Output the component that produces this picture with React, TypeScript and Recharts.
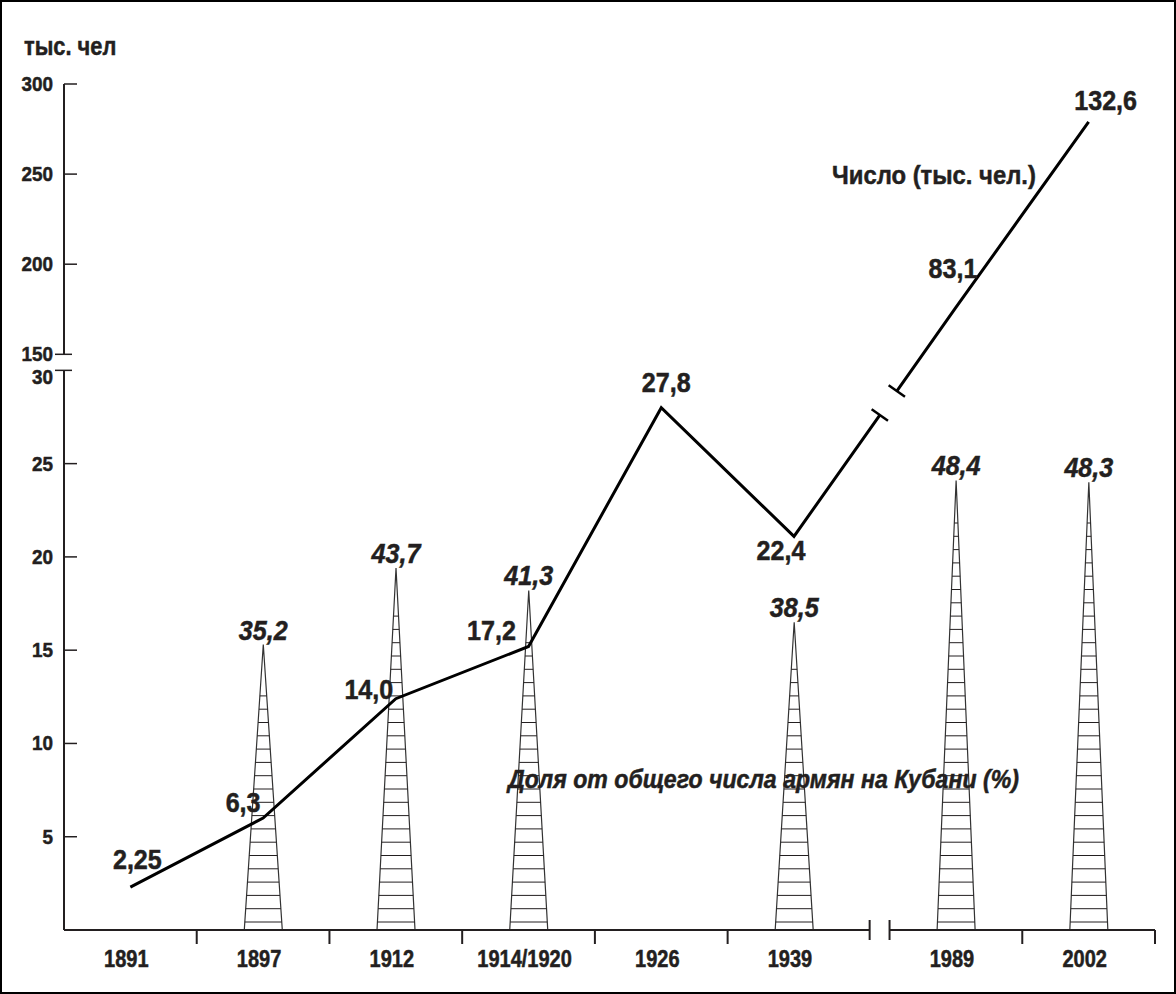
import React from "react";
import { ComposedChart, Line, Bar, XAxis, YAxis, ReferenceLine } from "recharts";

const years = ["1891", "1897", "1912", "1914/1920", "1926", "1939", "1989", "2002"];
const countLabels = ["2,25", "6,3", "14,0", "17,2", "27,8", "22,4", "83,1", "132,6"];
// count line as drawn: lower scale for 1891–1939, upper (broken) scale for 1989–2002
const countDrawn = [2.3, 6.0, 12.4, 15.2, 28.0, 21.1, 176, 279];
const shareLabels = [null, "35,2", "43,7", "41,3", null, "38,5", "48,4", "48,3"];
// spike heights as drawn, on the lower scale
const shareDrawn = [null, 15.3, 19.4, 18.2, null, 16.5, 24.1, 24.0];
const yTicksLow = [5, 10, 15, 20, 25, 30];
const yTicksHigh = [150, 200, 250, 300];

const W = 1176;
const H = 994;
const FONT = '"Liberation Sans", Arial, sans-serif';
const INK = "#231f20";

// broken y axis
const LOW_TOP = 30;
const HIGH_BOTTOM = 150;
const Y_GAP = 0.86;
const HIGH_K = 0.0966;
const yPlot = (v: number) => (v <= LOW_TOP ? v : LOW_TOP + Y_GAP + (v - HIGH_BOTTOM) * HIGH_K);
const Y_MAX = yPlot(300);

// broken x axis (gap between 1939 and 1989)
const LOW_CATS = 6;
const X_GAP = 0.22;
const xPlot = (i: number) => i + 0.5 + (i >= LOW_CATS ? X_GAP : 0);
const X_MAX = years.length + X_GAP;
const X_BREAK = [LOW_CATS + 0.07, LOW_CATS + X_GAP];
const LINE_BREAK_T = [0.53, 0.635];

const countLabelOffset: [number, number][] = [
  [7, -18], [-20, -6], [-27, 0], [-37, -6], [5, -16], [-13, 24], [-3, -29], [17, -12],
];

type Row = {
  x: number;
  low?: number;
  high?: number;
  share?: number;
  idx?: number;
  brk?: boolean;
};

const rows: Row[] = [];
years.forEach((_, i) => {
  const c = yPlot(countDrawn[i]);
  const row: Row = { x: xPlot(i), idx: i };
  if (i < LOW_CATS) row.low = c;
  else row.high = c;
  const s = shareDrawn[i];
  if (s != null) row.share = s;
  rows.push(row);
  if (i === LOW_CATS - 1) {
    const a = xPlot(i);
    const b = xPlot(i + 1);
    const cb = yPlot(countDrawn[i + 1]);
    rows.push({ x: a + (b - a) * LINE_BREAK_T[0], low: c + (cb - c) * LINE_BREAK_T[0], brk: true });
    rows.push({ x: a + (b - a) * LINE_BREAK_T[1], high: c + (cb - c) * LINE_BREAK_T[1], brk: true });
  }
});

const yTickVals = [...yTicksLow, ...yTicksHigh];
const xTicks = [
  ...years.map((_, i) => xPlot(i)),
  1, 2, 3, 4, 5,
  ...X_BREAK,
  LOW_CATS + 1 + X_GAP,
  LOW_CATS + 2 + X_GAP,
].sort((a, b) => a - b);

const near = (a: number, b: number) => Math.abs(a - b) < 1e-6;

// bold text squeezed horizontally, the original uses a narrow face
const CText = ({ x, y, size, sx = 1, anchor = "start", italic = false, children }: any) => (
  <text
    transform={`translate(${x} ${y}) scale(${sx} 1)`}
    textAnchor={anchor}
    fontFamily={FONT}
    fontWeight="bold"
    fontStyle={italic ? "italic" : "normal"}
    fontSize={size}
    fill={INK}
    stroke={INK}
    strokeWidth={0.5}
  >
    {children}
  </text>
);

const YTick = (p: any) => {
  const { x, y, payload } = p;
  const t = yTickVals.find((v) => near(yPlot(v), payload.value));
  if (t == null) return <g />;
  const isBreak = t === LOW_TOP || t === HIGH_BOTTOM;
  return (
    <g>
      <line
        x1={isBreak ? x - 9 : x}
        x2={isBreak ? x + 8 : x + 13}
        y1={y}
        y2={y}
        stroke={INK}
        strokeWidth={1.5}
      />
      <CText x={x - 11} y={y + 7 + (t === LOW_TOP ? 7 : 0)} size={21} sx={0.9} anchor="end">
        {t}
      </CText>
    </g>
  );
};

const XTick = (p: any) => {
  const { x, y, payload } = p;
  const v = payload.value;
  const ci = years.findIndex((_, i) => near(xPlot(i), v));
  if (ci >= 0) {
    return (
      <CText x={x - 4} y={y + 37} size={23} sx={0.87} anchor="middle">
        {years[ci]}
      </CText>
    );
  }
  if (X_BREAK.some((b) => near(b, v))) {
    return <line x1={x} x2={x} y1={y - 10} y2={y + 10} stroke={INK} strokeWidth={2} />;
  }
  return <line x1={x} x2={x} y1={y} y2={y + 14} stroke={INK} strokeWidth={2} />;
};

const CountDot = (p: any) => {
  const { cx, cy, payload, points, index, dataKey } = p;
  const key = `${dataKey}-${index}`;
  if (cx == null || cy == null || Number.isNaN(cy)) return <g key={key} />;
  if (payload.brk) {
    let ux = 0.58;
    let uy = -0.81;
    const nb = dataKey === "low" ? points?.[index - 1] : points?.[index + 1];
    if (nb && nb.y != null) {
      const dx = dataKey === "low" ? cx - nb.x : nb.x - cx;
      const dy = dataKey === "low" ? cy - nb.y : nb.y - cy;
      const len = Math.hypot(dx, dy) || 1;
      ux = dx / len;
      uy = dy / len;
    }
    const px = -uy;
    const py = ux;
    return (
      <line
        key={key}
        x1={cx - 10 * px}
        y1={cy - 10 * py}
        x2={cx + 10 * px}
        y2={cy + 10 * py}
        stroke="#000"
        strokeWidth={2.5}
      />
    );
  }
  const i = payload.idx;
  if (i == null) return <g key={key} />;
  const [dx, dy] = countLabelOffset[i];
  return (
    <g key={key}>
      <CText x={cx + dx} y={cy + dy} size={27} sx={0.93} anchor="middle">
        {countLabels[i]}
      </CText>
    </g>
  );
};

const Spike = (p: any) => {
  const { x, y, width, height, payload } = p;
  if (payload.share == null || !height) return <g />;
  const cx = x + width / 2;
  const apex = y;
  const base = y + height;
  const half = 19;
  const hatch = [];
  for (let ly = base - 8; ly > apex + 40; ly -= 13.3) {
    const w = (half * (ly - apex)) / (base - apex);
    hatch.push(
      <line key={ly} x1={cx - w} x2={cx + w} y1={ly} y2={ly} stroke={INK} strokeWidth={1} />
    );
  }
  return (
    <g>
      <polygon
        points={`${cx},${apex} ${cx - half},${base} ${cx + half},${base}`}
        fill="#fff"
        stroke="#333"
        strokeWidth={1.2}
      />
      {hatch}
      <CText x={cx} y={apex - 5} size={27} sx={0.93} anchor="middle" italic>
        {shareLabels[payload.idx]}
      </CText>
    </g>
  );
};

export default function App() {
  return (
    <div style={{ position: "absolute", left: 0, top: 0, width: W, height: H, background: "#fff" }}>
      <ComposedChart
        width={W}
        height={H}
        data={rows}
        margin={{ top: 84, right: 21, bottom: 0, left: 0 }}
      >
        <XAxis
          dataKey="x"
          type="number"
          domain={[0, X_MAX]}
          ticks={xTicks}
          interval={0}
          tick={XTick}
          tickLine={false}
          axisLine={false}
          tickSize={0}
          tickMargin={0}
          height={64}
        />
        <YAxis
          type="number"
          domain={[0, Y_MAX]}
          ticks={yTickVals.map(yPlot)}
          interval={0}
          tick={YTick}
          tickLine={false}
          axisLine={false}
          tickSize={0}
          tickMargin={0}
          width={64}
        />
        <Bar dataKey="share" shape={Spike} isAnimationActive={false} />
        <ReferenceLine segment={[{ x: 0, y: 0 }, { x: X_BREAK[0], y: 0 }]} stroke={INK} strokeWidth={2} ifOverflow="visible" />
        <ReferenceLine segment={[{ x: X_BREAK[1], y: 0 }, { x: X_MAX, y: 0 }]} stroke={INK} strokeWidth={2} ifOverflow="visible" />
        <ReferenceLine segment={[{ x: 0, y: 0 }, { x: 0, y: yPlot(LOW_TOP) }]} stroke={INK} strokeWidth={2} ifOverflow="visible" />
        <ReferenceLine segment={[{ x: 0, y: yPlot(HIGH_BOTTOM) }, { x: 0, y: Y_MAX }]} stroke={INK} strokeWidth={2} ifOverflow="visible" />
        <Line
          dataKey="low"
          type="linear"
          stroke="#000"
          strokeWidth={3}
          dot={CountDot}
          activeDot={false}
          isAnimationActive={false}
        />
        <Line
          dataKey="high"
          type="linear"
          stroke="#000"
          strokeWidth={3}
          dot={CountDot}
          activeDot={false}
          isAnimationActive={false}
        />
      </ComposedChart>
      <svg
        width={W}
        height={H}
        style={{ position: "absolute", left: 0, top: 0, pointerEvents: "none" }}
      >
        <CText x={24} y={55} size={26} sx={0.84}>
          тыс. чел
        </CText>
        <CText x={832} y={184} size={26.5} sx={0.9}>
          Число (тыс. чел.)
        </CText>
        <CText x={508} y={788} size={25} sx={0.925} italic>
          Доля от общего числа армян на Кубани (%)
        </CText>
      </svg>
      <div
        style={{
          position: "absolute",
          left: 0,
          top: 0,
          width: W,
          height: H,
          boxSizing: "border-box",
          border: "2px solid #000",
          pointerEvents: "none",
        }}
      />
    </div>
  );
}
